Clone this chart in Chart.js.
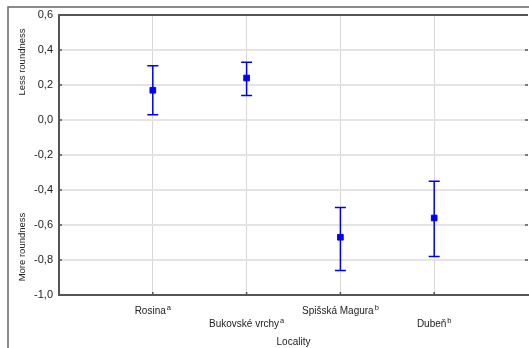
<!DOCTYPE html>
<html>
<head>
<meta charset="utf-8">
<script src="https://cdn.jsdelivr.net/npm/chart.js@4/dist/chart.umd.min.js"></script>
<style>
  html, body { margin: 0; padding: 0; background: #fff; }
  #wrap { width: 529px; height: 348px; position: relative; }
</style>
</head>
<body>
<div id="wrap"><canvas id="chart"></canvas></div>
<script>
// categories (x = 1..4 on a 0..5 axis), superscript letters = groups
const categories = ["Rosina", "Bukovské vrchy", "Spišská Magura", "Dubeň"];
const groups = ["a", "a", "b", "b"];
const means = [0.17, 0.24, -0.67, -0.56];
const upper = [0.31, 0.33, -0.50, -0.35];
const lower = [0.03, 0.14, -0.86, -0.78];
const yTicks = [-1.0, -0.8, -0.6, -0.4, -0.2, 0.0, 0.2, 0.4, 0.6];
const yTickLabels = ["-1,0", "-0,8", "-0,6", "-0,4", "-0,2", "0,0", "0,2", "0,4", "0,6"];

const FONT = "'Liberation Sans', Arial, sans-serif";
const AXIS = "#555";
const TEXT = "#222";

const points = categories.map((c, i) => ({ x: i + 1, y: means[i] }));

const errorBars = {
  id: "errorBars",
  beforeDraw(chart) {
    const ctx = chart.ctx;
    ctx.save();
    ctx.strokeStyle = "#666";
    ctx.lineWidth = 1.5;
    ctx.beginPath();
    ctx.moveTo(8, 348);
    ctx.lineTo(8, 7);
    ctx.lineTo(529, 7);
    ctx.stroke();
    ctx.restore();
  },
  afterDatasetsDraw(chart) {
    const ctx = chart.ctx;
    const x = chart.scales.x, y = chart.scales.y;
    ctx.save();
    ctx.strokeStyle = "#0000ee";
    ctx.lineWidth = 1.5;
    categories.forEach((c, i) => {
      const px = x.getPixelForValue(i + 1);
      const top = y.getPixelForValue(upper[i]);
      const bot = y.getPixelForValue(lower[i]);
      ctx.beginPath();
      ctx.moveTo(px, top); ctx.lineTo(px, bot);
      ctx.moveTo(px - 5.5, top); ctx.lineTo(px + 5.5, top);
      ctx.moveTo(px - 5.5, bot); ctx.lineTo(px + 5.5, bot);
      ctx.stroke();
    });
    ctx.restore();
  },
  afterDraw(chart) {
    const ctx = chart.ctx;
    const a = chart.chartArea;
    const x = chart.scales.x, y = chart.scales.y;
    ctx.save();
    // top frame of plot
    ctx.strokeStyle = AXIS;
    ctx.lineWidth = 2;
    ctx.beginPath();
    ctx.moveTo(a.left - 1, a.top);
    ctx.lineTo(a.right, a.top);
    ctx.stroke();
    // small inner tick marks
    ctx.lineWidth = 1.5;
    ctx.beginPath();
    yTicks.forEach(v => {
      const py = y.getPixelForValue(v);
      ctx.moveTo(a.left, py); ctx.lineTo(a.left + 3, py);
      ctx.moveTo(a.right, py); ctx.lineTo(a.right - 3, py);
    });
    categories.forEach((c, i) => {
      const px = x.getPixelForValue(i + 1);
      ctx.moveTo(px, a.bottom); ctx.lineTo(px, a.bottom - 3);
    });
    ctx.stroke();
    // staggered category labels with superscript group letters
    ctx.fillStyle = TEXT;
    ctx.textBaseline = "alphabetic";
    categories.forEach((c, i) => {
      const px = x.getPixelForValue(i + 1);
      const base = a.bottom + (i % 2 === 0 ? 19 : 32);
      ctx.font = "10px " + FONT;
      const w1 = ctx.measureText(c).width;
      ctx.font = "7.5px " + FONT;
      const w2 = ctx.measureText(groups[i]).width;
      const sx = px - (w1 + w2 + 1) / 2;
      ctx.textAlign = "left";
      ctx.font = "10px " + FONT;
      ctx.fillText(c, sx, base);
      ctx.font = "7.5px " + FONT;
      ctx.fillText(groups[i], sx + w1 + 1, base - 4);
    });
    ctx.font = "10px " + FONT;
    ctx.textAlign = "center";
    ctx.fillText("Locality", (a.left + a.right) / 2, 345);
    // y axis titles
    ctx.font = "9.5px " + FONT;
    ctx.textBaseline = "middle";
    [["Less roundness", 62], ["More roundness", 247]].forEach(([t, cy]) => {
      ctx.save();
      ctx.translate(22, cy);
      ctx.rotate(-Math.PI / 2);
      ctx.fillText(t, 0, 0);
      ctx.restore();
    });
    ctx.restore();
  }
};

new Chart(document.getElementById("chart"), {
  type: "scatter",
  data: {
    datasets: [{
      data: points,
      backgroundColor: "#0000ff",
      borderColor: "#0000ff",
      pointStyle: "rect",
      pointRadius: 4,
      pointHoverRadius: 4
    }]
  },
  options: {
    responsive: true,
    maintainAspectRatio: false,
    animation: false,
    layout: { autoPadding: false, padding: { top: 15, right: 1, left: 0, bottom: 0 } },
    plugins: { legend: { display: false }, tooltip: { enabled: false } },
    scales: {
      x: {
        type: "linear",
        min: 0,
        max: 5,
        afterBuildTicks: s => { s.ticks = [0, 1, 2, 3, 4, 5].map(v => ({ value: v })); },
        afterFit: s => { s.height = 53; s.paddingLeft = 0; s.paddingRight = 0; },
        ticks: { display: false },
        grid: {
          drawTicks: false,
          color: c => (c.tick && c.tick.value > 0 && c.tick.value < 5) ? "#d8d8d8" : "rgba(0,0,0,0)",
          lineWidth: 1
        },
        border: { color: AXIS, width: 2 }
      },
      y: {
        min: -1.0,
        max: 0.6,
        afterBuildTicks: s => { s.ticks = yTicks.map(v => ({ value: v })); },
        afterFit: s => { s.width = 59; },
        ticks: {
          padding: 6,
          color: TEXT,
          font: { family: FONT, size: 11 },
          callback: v => {
            const k = yTicks.findIndex(t => Math.abs(t - v) < 1e-9);
            return k >= 0 ? yTickLabels[k] : "";
          }
        },
        grid: { drawTicks: false, color: "#e4e4e4", lineWidth: 2 },
        border: { color: AXIS, width: 2 }
      }
    }
  },
  plugins: [errorBars]
});
</script>
</body>
</html>
